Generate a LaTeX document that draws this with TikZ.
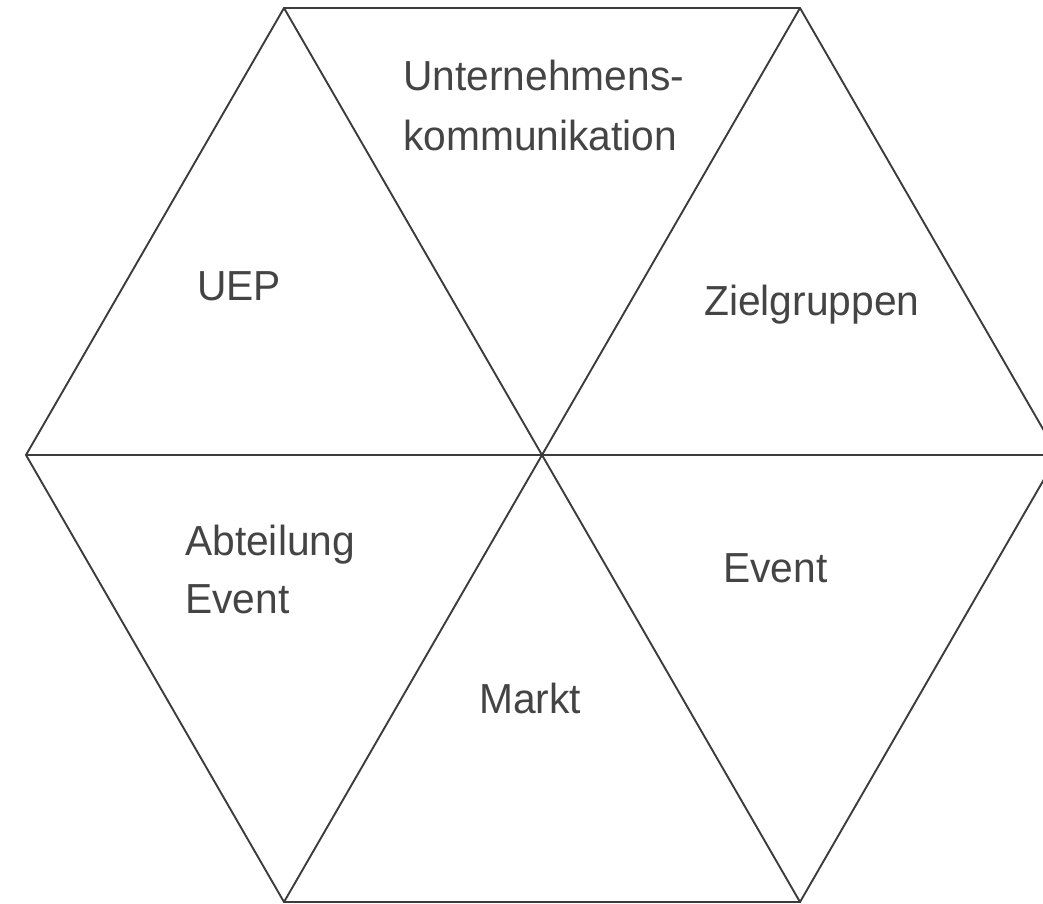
\documentclass[tikz,border=0pt]{standalone}
\usepackage{fontspec}
\setmainfont{Liberation Sans}
\definecolor{linegray}{HTML}{3C3C3C}
\definecolor{textgray}{HTML}{444444}
\begin{document}
\begin{tikzpicture}[x=1pt,y=-1pt,
  edge/.style={draw=linegray,line width=1.9pt,line join=miter},
  lbl/.style={anchor=base west,inner sep=0pt,text=textgray,font=\fontsize{42}{49}\selectfont,xscale=0.97}]
\useasboundingbox (0,0) rectangle (1043,903);
\begin{scope}
\clip (0,0) rectangle (1043,903);
\coordinate (TL) at (284,8);
\coordinate (TR) at (800,8);
\coordinate (R) at (1058,455);
\coordinate (BR) at (800,902);
\coordinate (BL) at (284,902);
\coordinate (L) at (26,455);
\coordinate (C) at (542,455);
\draw[edge] (TL) -- (TR) -- (R) -- (BR) -- (BL) -- (L) -- cycle;
\draw[edge] (TL) -- (BR);
\draw[edge] (TR) -- (BL);
\draw[edge] (L) -- (R);
\end{scope}
\node[lbl] (u1) at (403,90) {Unternehmens-};
\node[lbl] (u2) at (403,150) {kommunikation};
\node[lbl] (uep) at (197,300) {UEP};
\node[lbl] (zg) at (704,315) {Zielgruppen};
\node[lbl] (ab1) at (185,555) {Abteilung};
\node[lbl] (ab2) at (185,613) {Event};
\node[lbl] (ev) at (723,582) {Event};
\node[lbl] (mk) at (479,713) {Markt};
\end{tikzpicture}
\end{document}
